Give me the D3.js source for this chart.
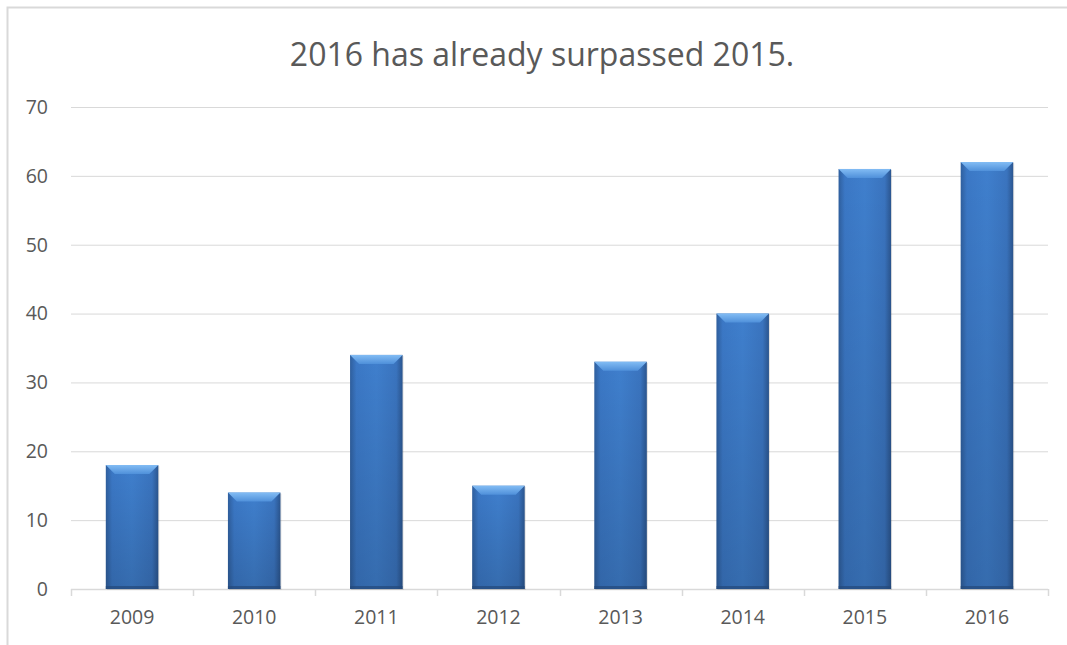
<!DOCTYPE html>
<html><head><meta charset="utf-8">
<script src="https://cdn.jsdelivr.net/npm/d3@7"></script>
<style>body{margin:0;background:#fff}svg{display:block;font-family:"Open Sans","Noto Sans",sans-serif}</style>
</head><body>
<svg id="c" width="1067" height="645"></svg>
<script>
const years = ["2009","2010","2011","2012","2013","2014","2015","2016"];
const values = [18,14,34,15,33,40,61,62];
const yTicks = [0,10,20,30,40,50,60,70];
const title = "2016 has already surpassed 2015.";

const svg = d3.select("#c");
const W = 1067, H = 645;
const m = {left:71, right:19, top:107, bottom:56};
const x = d3.scaleBand().domain(years).range([m.left, W-m.right]).paddingInner(0.57).paddingOuter(0.285);
const y = d3.scaleLinear().domain([0,70]).range([H-m.bottom, m.top]);

// chart border
svg.append("path").attr("d",`M7.5,${H} V7.5 H${W}`).attr("fill","none").attr("stroke","#d9d9d9").attr("stroke-width",2);

const defs = svg.append("defs");
const g1 = defs.append("linearGradient").attr("id","body").attr("x1","0").attr("x2","1").attr("y1","0").attr("y2","0");
g1.append("stop").attr("offset","0").attr("stop-color","#2f5f9e");
g1.append("stop").attr("offset","0.12").attr("stop-color","#3b78c6");
g1.append("stop").attr("offset","0.5").attr("stop-color","#3f7fcd");
g1.append("stop").attr("offset","0.88").attr("stop-color","#3a74bf");
g1.append("stop").attr("offset","1").attr("stop-color","#2b5690");
const g2 = defs.append("linearGradient").attr("id","vert").attr("x1","0").attr("x2","0").attr("y1","0").attr("y2","1");
g2.append("stop").attr("offset","0").attr("stop-color","#000").attr("stop-opacity",0);
g2.append("stop").attr("offset","1").attr("stop-color","#000").attr("stop-opacity",0.15);
const g3 = defs.append("linearGradient").attr("id","top").attr("x1","0").attr("x2","0").attr("y1","0").attr("y2","1");
g3.append("stop").attr("offset","0").attr("stop-color","#82bcf4");
g3.append("stop").attr("offset","1").attr("stop-color","#4f90da");

// gridlines
svg.append("g").selectAll("line").data(yTicks.filter(d=>d>0)).join("line")
  .attr("x1",m.left).attr("x2",W-m.right).attr("y1",d=>y(d)+0.5).attr("y2",d=>y(d)+0.5)
  .attr("stroke","#d9d9d9").attr("stroke-width",1);

// y labels
svg.append("g").selectAll("text").data(yTicks).join("text")
  .attr("x",48).attr("y",d=>y(d)).attr("dy","0.35em").attr("text-anchor","end")
  .attr("font-size",19.5).attr("fill","#595959").text(d=>d);

// x axis
const xa = svg.append("g").attr("transform",`translate(0,${y(0)})`)
  .call(d3.axisBottom(x).tickSize(0).tickPadding(21));
xa.select(".domain").remove();
xa.selectAll("text").attr("font-size",19.5).attr("fill","#595959").attr("font-family","'Open Sans','Noto Sans',sans-serif");
const bounds = d3.range(years.length+1).map(i=>m.left + i*(W-m.left-m.right)/years.length);
svg.append("line").attr("x1",m.left).attr("x2",W-m.right).attr("y1",y(0)+0.5).attr("y2",y(0)+0.5).attr("stroke","#d9d9d9").attr("stroke-width",1.5);
svg.append("g").selectAll("line").data(bounds).join("line")
  .attr("x1",d=>Math.round(d)+0.5).attr("x2",d=>Math.round(d)+0.5).attr("y1",y(0)).attr("y2",y(0)+7)
  .attr("stroke","#d9d9d9").attr("stroke-width",1.5);

// bars
const bars = svg.append("g").selectAll("g").data(values.map((v,i)=>({k:years[i],v}))).join("g");
bars.append("rect").attr("x",d=>x(d.k)+1).attr("y",d=>y(d.v)+1).attr("width",x.bandwidth()).attr("height",d=>y(0)-y(d.v))
  .attr("fill","#000").attr("opacity",0.12);
bars.append("rect").attr("x",d=>x(d.k)).attr("y",d=>y(d.v)).attr("width",x.bandwidth()).attr("height",d=>y(0)-y(d.v))
  .attr("fill","url(#body)");
bars.append("rect").attr("x",d=>x(d.k)).attr("y",d=>y(d.v)).attr("width",x.bandwidth()).attr("height",d=>y(0)-y(d.v))
  .attr("fill","url(#vert)");
bars.append("path").attr("d",d=>{
  const x0=x(d.k), x1=x0+x.bandwidth(), t=y(d.v), b=9;
  return `M${x0},${t} H${x1} L${x1-b},${t+b} H${x0+b} Z`;
}).attr("fill","url(#top)");
bars.append("rect").attr("x",d=>x(d.k)).attr("y",d=>y(0)-3).attr("width",x.bandwidth()).attr("height",3)
  .attr("fill","#23487a").attr("opacity",0.7);

// title
svg.append("text").attr("x",542).attr("y",66).attr("text-anchor","middle")
  .attr("font-size",32).attr("fill","#595959").text(title);
</script>
</body></html>
